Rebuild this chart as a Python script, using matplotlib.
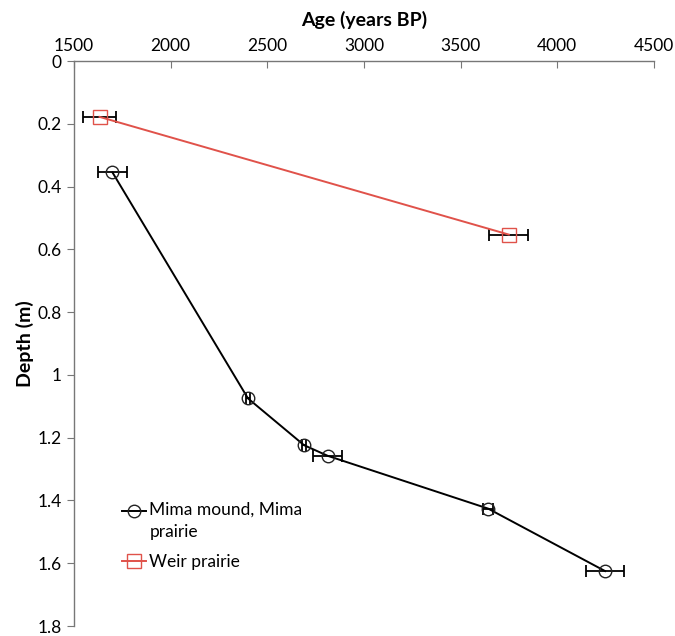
import numpy as np
import matplotlib.pyplot as plt
from matplotlib.legend_handler import HandlerLine2D

plt.rcParams["font.family"] = ["Lato", "DejaVu Sans"]

# Mima mound, Mima prairie
mima_age = [1699, 2400, 2690, 2813, 3642, 4247]
mima_depth = [0.355, 1.075, 1.224, 1.258, 1.426, 1.625]
mima_err = [73, 10, 10, 75, 25, 100]

# Weir prairie
weir_age = [1632, 3749]
weir_depth = [0.178, 0.553]
weir_err = [85, 100]

x_ticks = [1500, 2000, 2500, 3000, 3500, 4000, 4500]
y_ticks = [0, 0.2, 0.4, 0.6, 0.8, 1.0, 1.2, 1.4, 1.6, 1.8]
y_labels = ["0", "0.2", "0.4", "0.6", "0.8", "1", "1.2", "1.4", "1.6", "1.8"]


class ShiftedLine(HandlerLine2D):
    # legend handle lifted so it sits next to the first line of a 2-line label
    def __init__(self, dy, **kw):
        super().__init__(**kw)
        self.dy = dy

    def create_artists(self, legend, orig_handle, xdescent, ydescent,
                       width, height, fontsize, trans):
        arts = super().create_artists(legend, orig_handle, xdescent, ydescent,
                                      width, height, fontsize, trans)
        for a in arts:
            a.set_ydata(np.asarray(a.get_ydata()) + self.dy)
        return arts


fig = plt.figure(figsize=(6.75, 6.36), dpi=100)
ax = fig.add_axes([74 / 675, 1 - 626 / 636, 580 / 675, 565 / 636])

ax.errorbar(mima_age, mima_depth, xerr=mima_err, fmt="none", ecolor="black",
            elinewidth=1.3, capsize=4, capthick=1.3, zorder=2)
ax.errorbar(weir_age, weir_depth, xerr=weir_err, fmt="none", ecolor="black",
            elinewidth=1.3, capsize=4, capthick=1.3, zorder=2)

mima_line, = ax.plot(mima_age, mima_depth, color="black", lw=1.4, marker="o",
                     markersize=9, markerfacecolor="none",
                     markeredgecolor="#222222", markeredgewidth=1.0,
                     label="Mima mound, Mima\nprairie", zorder=3)
weir_line, = ax.plot(weir_age, weir_depth, color="#e0524a", lw=1.4, marker="s",
                     markersize=10, markerfacecolor="none",
                     markeredgecolor="#e0524a", markeredgewidth=1.0,
                     label="Weir prairie", zorder=3)

ax.set_xlim(1500, 4500)
ax.set_ylim(1.8, 0)
ax.xaxis.tick_top()
ax.xaxis.set_label_position("top")
ax.set_xticks(x_ticks)
ax.set_yticks(y_ticks)
ax.set_yticklabels(y_labels)
ax.set_xlabel("Age (years BP)", fontsize=14, fontweight="bold", labelpad=9)
ax.set_ylabel("Depth (m)", fontsize=14, fontweight="bold", labelpad=2)

ax.tick_params(axis="x", direction="in", length=5, color="#777777",
               labelsize=12.5, pad=5)
ax.tick_params(axis="y", direction="out", length=5, color="#777777",
               labelsize=12.5, pad=4)

for side in ["right", "bottom"]:
    ax.spines[side].set_visible(False)
for side in ["top", "left"]:
    ax.spines[side].set_color("#777777")
    ax.spines[side].set_linewidth(1.0)

leg = ax.legend(loc="upper left", bbox_to_anchor=(0.07, 0.232), frameon=False,
                fontsize=12.5, handlelength=1.4, handletextpad=0.2,
                labelspacing=0.8, borderaxespad=0,
                handler_map={mima_line: ShiftedLine(dy=7.9)})
for txt in leg.get_texts():
    txt.set_linespacing(1.5)

fig.savefig("out.png", dpi=100)
